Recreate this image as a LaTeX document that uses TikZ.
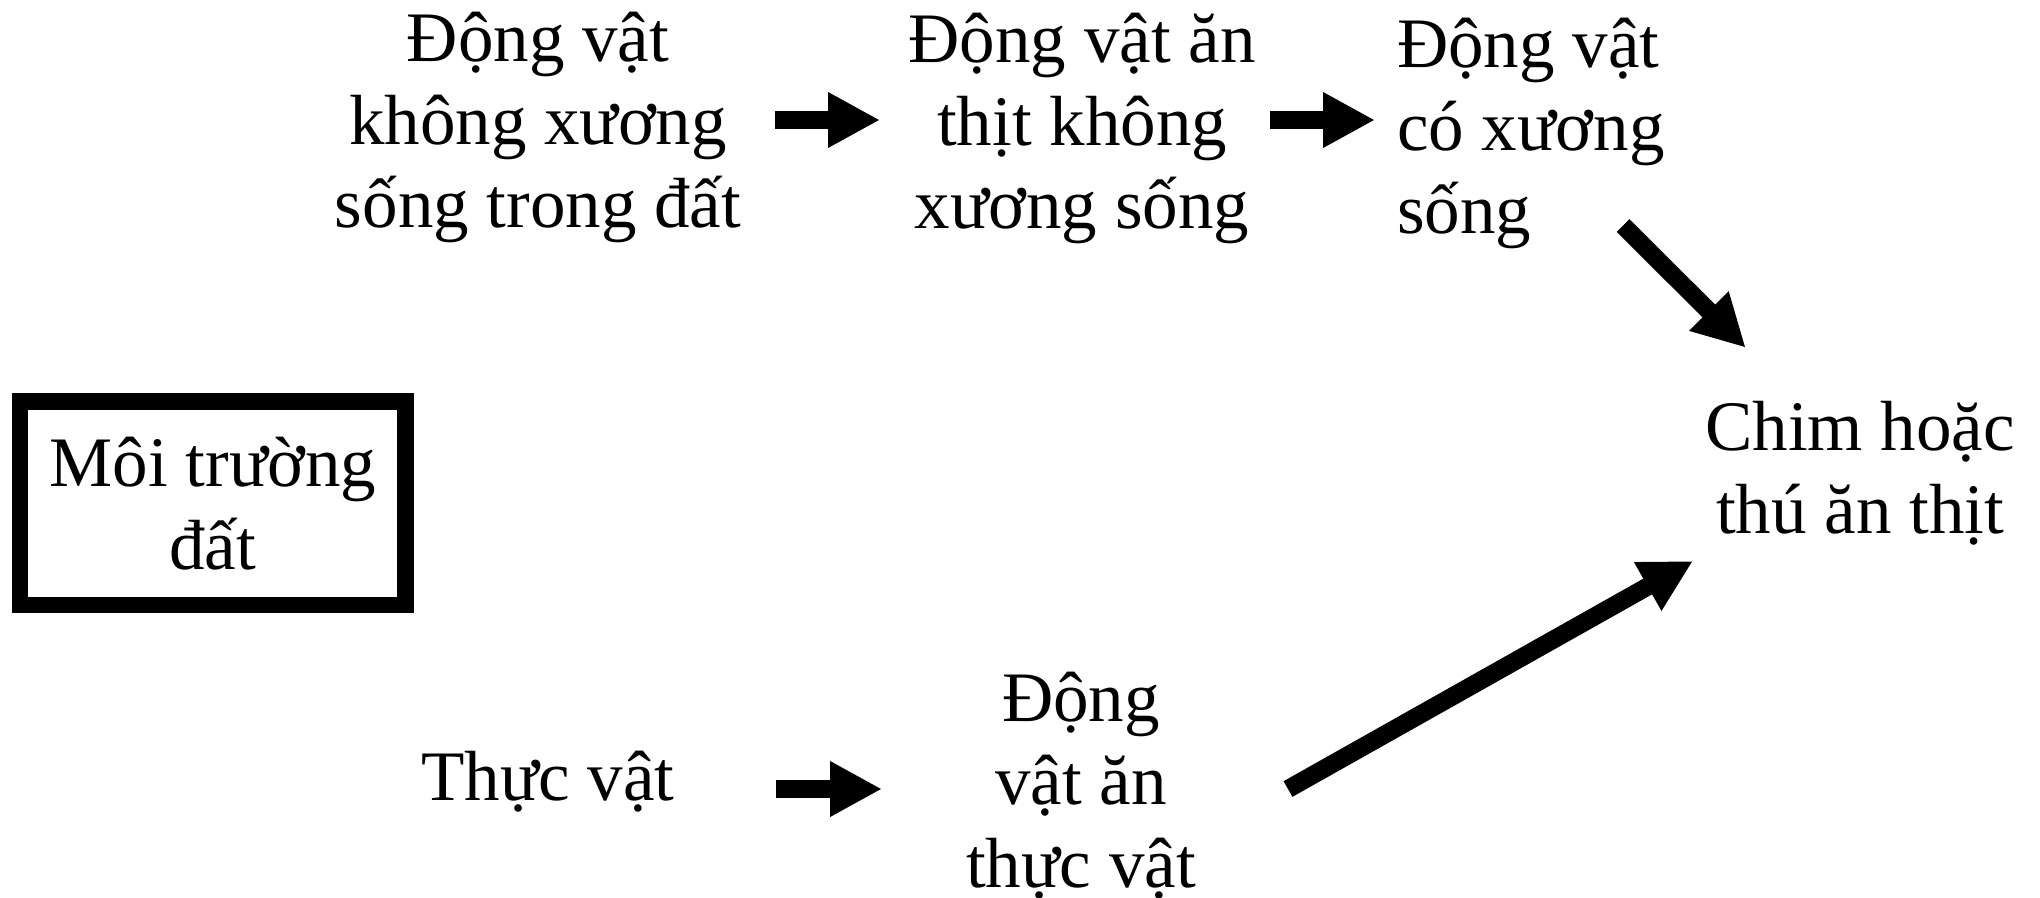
\documentclass[tikz,border=0pt]{standalone}
\usepackage{fontspec}
\setmainfont{Liberation Serif}
\usetikzlibrary{arrows.meta}
\tikzset{
  lbl/.style={align=center, inner sep=0pt, font=\fontsize{71pt}{83pt}\selectfont},
  arr/.style={line width=18pt, -{Triangle[length=52pt,width=52pt]}},
  framebox/.style={draw, line width=16.7pt, minimum width=385.7pt, minimum height=203.3pt, inner sep=0pt}
}
\begin{document}
\begin{tikzpicture}[x=1pt,y=-1pt]
\useasboundingbox (0,0) rectangle (2040,897);
\node[lbl, anchor=base] (A) at (538,227) {Động vật\\không xương\\sống trong đất};
\node[lbl, anchor=base] (B) at (1082,228) {Động vật ăn\\thịt không\\xương sống};
\node[lbl, align=left, anchor=base west] (C) at (1397,233) {Động vật\\có xương\\sống};
\node[lbl, anchor=base] (D) at (1860,533) {Chim hoặc\\thú ăn thịt};
\node[lbl, framebox] (E) at (212.8,503.3) {Môi trường\\đất};
\node[lbl, anchor=base] (F) at (548,800) {Thực vật};
\node[lbl, anchor=base] (G) at (1081,887) {Động\\vật ăn\\thực vật};
\draw[arr] ([shift={(237,-107)}]A.base) -- ([shift={(-202,-108)}]B.base);
\draw[arr] ([shift={(188,-108)}]B.base) -- ([shift={(-22,-113)}]C.base west);
\draw[arr] ([shift={(226,-7.5)}]C.base west) -- ([shift={(-114.3,-185.3)}]D.base);
\draw[arr] ([shift={(228,-11)}]F.base) -- ([shift={(-199,-98)}]G.base);
\draw[arr] ([shift={(207,-98)}]G.base) -- ([shift={(-167,28)}]D.base);
\end{tikzpicture}
\end{document}
